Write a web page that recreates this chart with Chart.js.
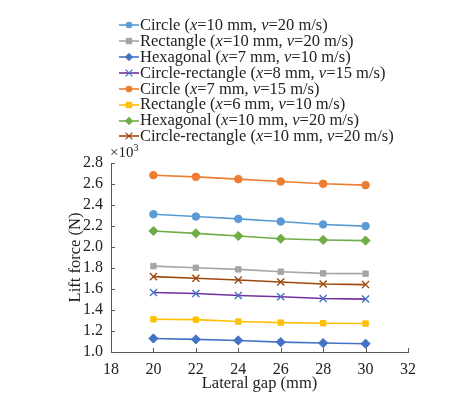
<!DOCTYPE html>
<html>
<head>
<meta charset="utf-8">
<script src="https://cdn.jsdelivr.net/npm/chart.js@4.4.0/dist/chart.umd.min.js"></script>
<style>
  body { margin: 0; background: #fff; }
  #wrap { position: relative; width: 458px; height: 394px; }
  #legenda { position: absolute; left: 119px; top: 17px; font-family: "Liberation Serif", serif; font-size: 16.5px; color: #222; }
  #legenda div { height: 15.9px; line-height: 15.9px; white-space: nowrap; }
  #legenda svg { vertical-align: middle; margin-right: 1px; position: relative; top: -1px; }
  #expoente { position: absolute; left: 110px; top: 142px; font-family: "Liberation Serif", serif; font-size: 15px; color: #222; }
  #expoente sup { font-size: 10px; }
</style>
</head>
<body>
<div id="wrap">
  <canvas id="chart_lift" width="458" height="394"></canvas>
  <div id="legenda"></div>
  <div id="expoente">×10<sup>3</sup></div>
</div>
<script>
// dados (forca em N)
var gaps = [20, 22, 24, 26, 28, 30];
var formas = ['Circle', 'Rectangle', 'Hexagonal', 'Circle-rectangle', 'Circle', 'Rectangle', 'Hexagonal', 'Circle-rectangle'];
var xMm = [10, 10, 7, 8, 7, 6, 10, 10];
var vMs = [20, 20, 10, 15, 15, 10, 20, 20];

var circulo_10_20 = [2312, 2290, 2268, 2243, 2215, 2199];
var retangulo_10_20 = [1818, 1802, 1787, 1765, 1749, 1746];
var hexagonal_7_10 = [1129, 1120, 1110, 1094, 1085, 1079];
var circRet_8_15 = [1566, 1557, 1538, 1526, 1510, 1504];
var circulo_7_15 = [2684, 2668, 2646, 2624, 2602, 2589];
var retangulo_6_10 = [1312, 1308, 1290, 1280, 1274, 1271];
var hexagonal_10_20 = [2152, 2130, 2105, 2079, 2067, 2061];
var circRet_10_20 = [1718, 1702, 1686, 1667, 1648, 1642];

var yTicks = [1000, 1200, 1400, 1600, 1800, 2000, 2200, 2400, 2600, 2800];
var xTicks = [18, 20, 22, 24, 26, 28, 30, 32];

var series = [circulo_10_20, retangulo_10_20, hexagonal_7_10, circRet_8_15, circulo_7_15, retangulo_6_10, hexagonal_10_20, circRet_10_20];
var corLinha = ['#5B9BD5', '#A5A5A5', '#4472C4', '#7030A0', '#ED7D31', '#FFC000', '#70AD47', '#9E480E'];
var corPonto = ['#5B9BD5', '#A5A5A5', '#4472C4', '#4472C4', '#ED7D31', '#FFC000', '#70AD47', '#9E480E'];
var estilo = ['circle', 'rect', 'rectRot', 'crossRot', 'circle', 'rect', 'rectRot', 'crossRot'];
var raio = { circle: 3.8, rect: 3.8, rectRot: 4.6, crossRot: 5 };

var datasets = [];
for (var i = 0; i < series.length; i++) {
  var pts = [];
  for (var j = 0; j < gaps.length; j++) {
    pts.push({ x: gaps[j], y: series[i][j] });
  }
  datasets.push({
    label: formas[i],
    data: pts,
    borderColor: corLinha[i],
    backgroundColor: corPonto[i],
    pointBorderColor: corPonto[i],
    pointBackgroundColor: corPonto[i],
    pointStyle: estilo[i],
    pointRadius: raio[estilo[i]],
    pointBorderWidth: estilo[i] == 'crossRot' ? 1.4 : 1,
    borderWidth: 1.6,
    tension: 0,
    fill: false
  });
}

// legenda em html (x e v em italico)
var legenda = document.getElementById('legenda');
function marcador(i) {
  var c = corPonto[i], s = '';
  if (estilo[i] == 'circle') s = '<circle cx="10" cy="8" r="3.3" fill="' + c + '"/>';
  else if (estilo[i] == 'rect') s = '<rect x="6.8" y="4.8" width="6.4" height="6.4" fill="' + c + '"/>';
  else if (estilo[i] == 'rectRot') s = '<polygon points="10,3.8 14.2,8 10,12.2 5.8,8" fill="' + c + '"/>';
  else s = '<path d="M6.6 4.6 L13.4 11.4 M13.4 4.6 L6.6 11.4" stroke="' + c + '" stroke-width="1.3"/>';
  return '<svg width="20" height="16"><line x1="0" y1="8" x2="20" y2="8" stroke="' + corLinha[i] + '" stroke-width="1.6"/>' + s + '</svg>';
}
for (var k = 0; k < formas.length; k++) {
  var linha = document.createElement('div');
  linha.innerHTML = marcador(k) + formas[k] + ' (<i>x</i>=' + xMm[k] + ' mm, <i>v</i>=' + vMs[k] + ' m/s)';
  legenda.appendChild(linha);
}

// ticks para dentro
const ticksInternos = {
  id: 'ticksInternos',
  afterDraw(chart) {
    const ctx = chart.ctx;
    const xs = chart.scales.x, ys = chart.scales.y;
    ctx.save();
    ctx.strokeStyle = '#595959';
    ctx.lineWidth = 1;
    ctx.beginPath();
    xTicks.forEach(function (t) {
      var px = Math.round(xs.getPixelForValue(t)) + 0.5;
      ctx.moveTo(px, ys.bottom);
      ctx.lineTo(px, ys.bottom - 4);
    });
    yTicks.forEach(function (t) {
      var py = Math.round(ys.getPixelForValue(t)) + 0.5;
      ctx.moveTo(xs.left, py);
      ctx.lineTo(xs.left + 4, py);
    });
    ctx.stroke();
    ctx.restore();
  }
};

const fonteTitulo = { family: 'Liberation Serif', size: 16.5 };
const fonteTick = { family: 'Liberation Serif', size: 16 };

const config = {
  type: 'line',
  data: { datasets: datasets },
  options: {
    responsive: false,
    animation: false,
    layout: { padding: { top: 163, right: 50, left: 66, bottom: 0 } },
    plugins: { legend: { display: false }, tooltip: { enabled: false } },
    scales: {
      x: {
        type: 'linear',
        min: 18, max: 32,
        afterBuildTicks: function (s) { s.ticks = xTicks.map(function (v) { return { value: v }; }); },
        grid: { display: false },
        border: { display: true, color: '#595959', width: 1 },
        ticks: { color: '#222', font: fonteTick, padding: 0, maxRotation: 0, autoSkip: false },
        title: { display: true, text: 'Lateral gap (mm)', color: '#222', font: fonteTitulo, padding: { top: -2, bottom: 0 } },
        afterFit: function (s) { s.height = 42; }
      },
      y: {
        min: 1000, max: 2800,
        afterBuildTicks: function (s) { s.ticks = yTicks.map(function (v) { return { value: v }; }); },
        grid: { display: false },
        border: { display: true, color: '#595959', width: 1 },
        ticks: { color: '#222', font: fonteTick, padding: 0, autoSkip: false, callback: function (v) { return (v / 1000).toFixed(1); } },
        title: { display: true, text: 'Lift force (N)', color: '#222', font: fonteTitulo, padding: { top: 0, bottom: 0 } },
        afterFit: function (s) { s.width = 45; }
      }
    }
  },
  plugins: [ticksInternos]
};

let chart_lift = new Chart(document.getElementById('chart_lift'), config);
</script>
</body>
</html>
